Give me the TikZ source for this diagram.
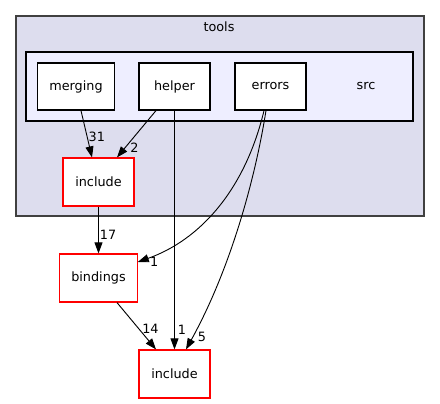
\documentclass[tikz,border=0pt]{standalone}
\usepackage{fontspec}
\setmainfont{DejaVu Sans}
\usetikzlibrary{arrows.meta,positioning,backgrounds,calc}
\definecolor{toolsfill}{HTML}{DDDDEE}
\definecolor{srcfill}{HTML}{EEEEFF}
\definecolor{toolsline}{HTML}{404040}

\begin{document}
\begin{tikzpicture}[x=1pt, y=-1pt,
    font=\fontsize{12.8}{14}\selectfont,
    dir/.style={draw, fill=white, line width=1.2pt, minimum width=71pt,
                minimum height=47pt, inner xsep=11.5pt},
    incdir/.style={dir, draw=red},
    cluster/.style={draw, line width=1.2pt, inner sep=0pt},
    lbl/.style={anchor=west, inner sep=1pt}]
\useasboundingbox (0,0) rectangle (440,404);
\node[cluster, fill=toolsfill, draw=toolsline, minimum width=408pt,
      minimum height=200pt]               (tools)    at (220,116)   {};
\node                                     (toolslbl) at (219,27)    {tools};
\node[cluster, fill=srcfill, minimum width=387pt,
      minimum height=69pt]                (src)      at (219.5,86.5) {};
\node                                     (srclbl)   at (366,86)    {src};
\node[dir]                                (merging)  at (76,86.5)   {merging};
\node[dir]                                (helper)   at (174.5,86.5) {helper};
\node[dir]                                (errors)   at (270.5,86.5) {errors};
\node[incdir, minimum height=48pt]        (toolsinc) at (98.5,182)  {include};
\node[incdir, minimum height=48pt]        (bindings) at (98.5,278)  {bindings};
\node[incdir, minimum height=48pt]        (include)  at (174.5,374) {include};
\path[-{Triangle[length=11pt,width=8pt]}, line width=0.9pt]
    (merging.south -| 81,0)  edge node[lbl, pos=.56]  {31} (toolsinc.north -| 92,0)
    (helper.south -| 156,0)  edge node[lbl, pos=.8, xshift=4pt] {2} (toolsinc.north -| 117,0)
    (helper.south)           edge node[lbl, pos=.92, xshift=2pt] {1} (include.north)
    (toolsinc.south)         edge node[lbl, pos=.6]   {17} (bindings.north)
    (bindings.south -| 117,0) edge node[lbl, pos=.56, xshift=2pt] {14} (include.north -| 156,0)
; %-path-%
\draw[-{Triangle[length=11pt,width=8pt]}, line width=0.9pt]
    (errors.south -| 264,0) .. controls (245,190) and (200,240)
    .. (bindings.east |- 0,262) node[lbl, pos=1, xshift=11pt] {1};
\draw[-{Triangle[length=11pt,width=8pt]}, line width=0.9pt]
    (errors.south -| 266,0) .. controls (255,180) and (230,270)
    .. (include.north -| 186,0) node[lbl, pos=.95, xshift=4pt] {5};
\end{tikzpicture}
\end{document}
